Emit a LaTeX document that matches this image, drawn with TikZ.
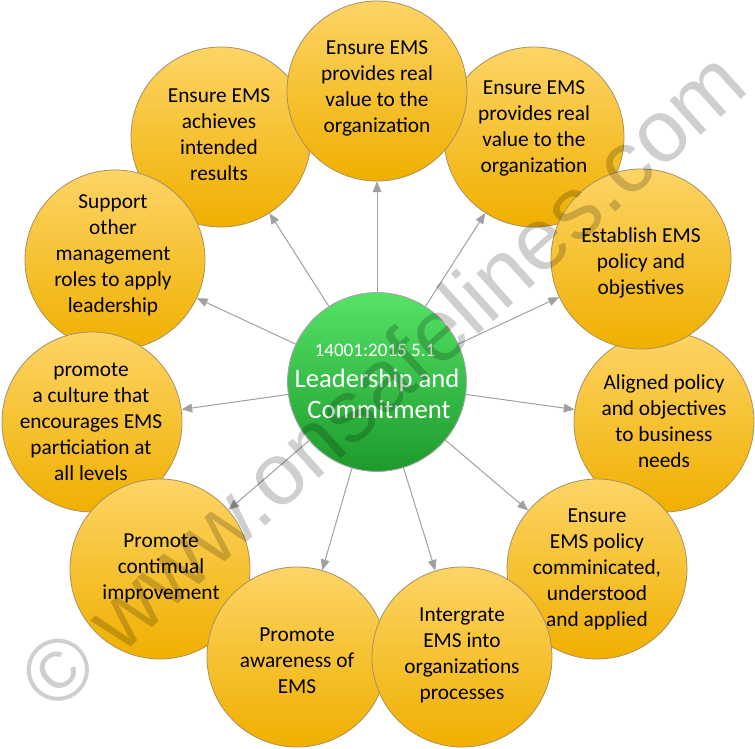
\documentclass[tikz,border=0pt]{standalone}
\usepackage{fontspec}
\setmainfont{Carlito}
\newfontfamily\wmfont{Liberation Sans}
\usetikzlibrary{arrows.meta}
\definecolor{ytop}{HTML}{FDD466}
\definecolor{ybot}{HTML}{F0B000}
\definecolor{gtop}{HTML}{55E366}
\definecolor{gbot}{HTML}{1C9A2C}
\definecolor{edgeY}{HTML}{A89060}
\definecolor{arrcol}{HTML}{A0A0A0}
\begin{document}
\begin{tikzpicture}[x=0.75pt,y=-0.75pt,
 ycirc/.style={circle, draw=edgeY, line width=0.6pt, top color=ytop, bottom color=ybot, minimum size=135pt, inner sep=0pt},
 gcirc/.style={circle, draw=gray!70, line width=0.6pt, top color=gtop, bottom color=gbot, minimum size=134pt, inner sep=0pt},
 otxt/.style={align=center, inner sep=0pt, font=\fontsize{16}{19.5}\selectfont, text=black},
 gsmall/.style={anchor=base, inner sep=0pt, text=white, font=\fontsize{14.3}{17}\selectfont},
 gbig/.style={anchor=base, inner sep=0pt, text=white, font=\fontsize{20}{24}\selectfont},
 conn/.style={draw=arrcol, line width=0.75pt, -{Triangle[length=8pt,width=6.5pt]}},
]
\useasboundingbox (0,0) rectangle (755,748);

% outer circles (drawing order gives the overlaps)
\node[ycirc] (o11) at (221,137) {};
\node[ycirc] (o10) at (115,260) {};
\node[ycirc] (o9)  at (92,422)  {};
\node[ycirc] (o8)  at (160,569) {};
\node[ycirc] (o7)  at (297,657) {};
\node[ycirc] (o4)  at (664,422) {};
\node[ycirc] (o5)  at (597,569) {};
\node[ycirc] (o6)  at (462,657) {};
\node[ycirc] (o2)  at (534,137) {};
\node[ycirc] (o3)  at (641,259) {};
\node[ycirc] (o1)  at (377,91)  {};

% texts
\node[otxt] (t1)  at (377,88)  {Ensure EMS\\provides real\\value to the\\organization};
\node[otxt] (t2)  at (534,128) {Ensure EMS\\provides real\\value to the\\organization};
\node[otxt] (t3)  at (641,263) {Establish EMS\\policy and\\objestives};
\node[otxt] (t4)  at (664,421) {Aligned policy\\and objectives\\to business\\needs};
\node[otxt] (t5)  at (597,569) {Ensure\\EMS policy\\comminicated,\\understood\\and applied};
\node[otxt] (t6)  at (462,655) {Intergrate\\EMS into\\organizations\\processes};
\node[otxt] (t7)  at (297,661) {Promote\\awareness of\\EMS};
\node[otxt] (t8)  at (161,568) {Promote\\contimual\\improvement};
\node[otxt] (t9)  at (91,422)  {promote\\a culture that\\encourages EMS\\particiation at\\all levels};
\node[otxt] (t10) at (113,255) {Support\\other\\management\\roles to apply\\leadership};
\node[otxt] (t11) at (219,135) {Ensure EMS\\achieves\\intended\\results};

% centre
\node[gcirc] (c) at (377,382) {};
\foreach \k in {1,...,11} { \draw[conn] (c) -- (o\k); }
\node[gcirc] (c2) at (377,382) {};
\node[gsmall] (g1) at (375,356) {14001:2015 5.1};
\node[gbig] (g2) at (377,387) {Leadership and};
\node[gbig] (g3) at (379,418) {Commitment};

% watermark
\node[rotate=41.9, inner sep=0pt, text=black, text opacity=0.19,
      font=\wmfont\fontsize{66}{66}\selectfont] (wm) at (382,379) {© www.onsafelines.com};
\end{tikzpicture}
\end{document}
